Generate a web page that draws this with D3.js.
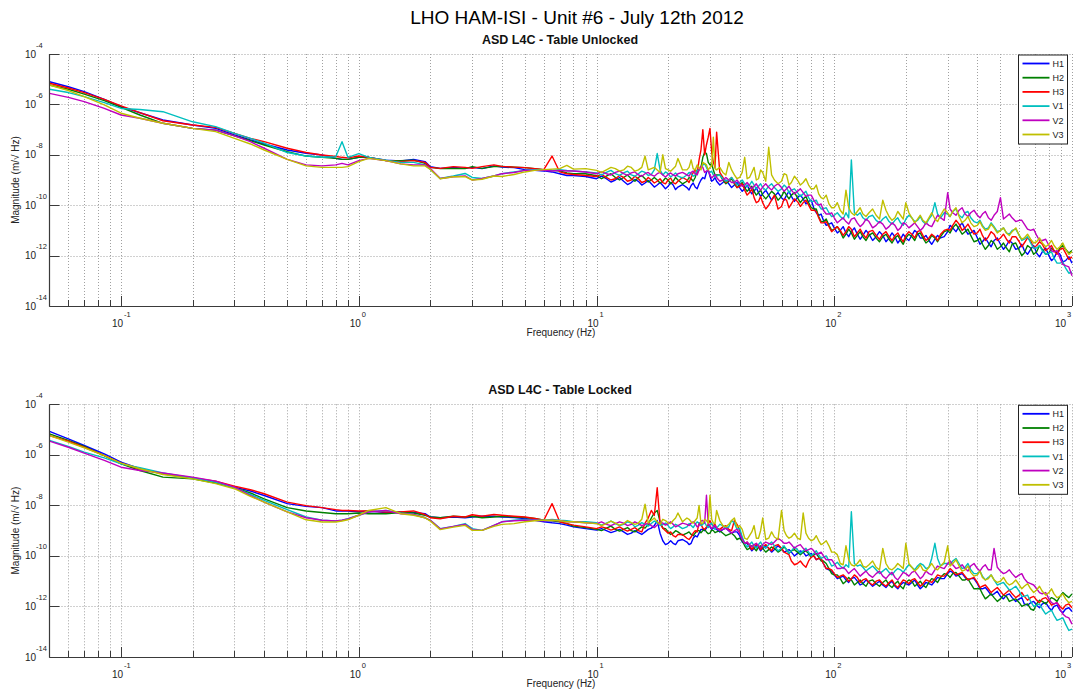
<!DOCTYPE html>
<html><head><meta charset="utf-8">
<script src="https://cdn.jsdelivr.net/npm/d3@7"></script>
<style>body{margin:0;background:#fff;overflow:hidden}svg{display:block}</style>
</head><body><svg id="c" width="1074" height="690"></svg>
<script>
// ---------------- DATA ----------------
const mainTitle = "LHO HAM-ISI - Unit #6 - July 12th 2012";
const panelTitles = ["ASD L4C - Table Unlocked", "ASD L4C - Table Locked"];
const seriesNames = ["H1","H2","H3","V1","V2","V3"];
const xTickExps = [-1, 0, 1, 2, 3];
const yTickExps = [-4, -6, -8, -10, -12, -14];
const xLabel = "Frequency (Hz)";
const yLabel = "Magnitude (m/\u221A Hz)";

// frequency grid (Hz)
const freqs = [
 0.05,0.06,0.07,0.085,0.1,0.12,0.15,0.2,0.25,0.3,0.35,0.4,0.5,0.6,0.7,0.8,0.85,0.9,1.0,
 1.1,1.3,1.5,1.7,1.9,2.0,2.2,2.5,2.8,3.0,3.3,3.7,4,4.5,5,5.5,6,6.5,7,7.5,8,9,10,
 11,12,13,14,15,16,17,18,19,20,21,22,24,25,26,27,28,29,30,31,32,34,36,38,40,42,44,46,48,50,53,56,60,63,66,70,74,78,82,86,90,95,100,
 106,112,118,125,132,140,150,160,170,180,190,200,212,224,236,250,265,280,300,315,335,355,375,400,420,445,470,500,530,560,600,630,670,710,750,800,840,890,940,1000
];
// extra readings between the grid points above 10 Hz (noise band)
const freqsMid = [
 10.5,11.5,12.5,13.5,14.5,15.5,16.5,17.5,18.5,19.5,20.5,21.5,
 23,24.5,25.5,26.5,27.5,28.5,29.5,30.5,31.5,
 33,35,37,39,41,43,45,47,49,
 51.5,54.5,58,61.5,64.5,68,72,76,80,84,88,92.5,97.5,
 103,109,115,121.5,128.5,136,145,155,165,175,185,195,
 206,218,230,243,257,272,290,307,325,345,365,387,
 410,432,457,485,515,545,580,615,650,690,730,775,820,865,915,970
];

// log10 of ASD magnitude, top panel (Table Unlocked)
const topH1 = [
 -5.10,-5.30,-5.49,-5.80,-6.09,-6.33,-6.62,-6.82,-6.95,-7.21,-7.41,-7.57,-7.81,-7.94,-8.01,-8.14,-8.18,-8.18,-8.10,
 -8.10,-8.21,-8.24,-8.18,-8.27,-8.47,-8.54,-8.50,-8.54,-8.50,-8.55,-8.44,-8.49,-8.51,-8.59,-8.62,-8.64,-8.68,-8.75,-8.82,-8.82,-8.86,-8.95,
 -8.95,-9.0,-9.05,-9.1,-9.05,-9.12,-9.15,-9.2,-9.22,-9.25, -9.2,-9.28,-9.3,-9.22,-9.28,-9.15,-8.9,-8.7,-8.85,-9.0, -9.05,-9.1,-9.15,-9.2,-9.3,-9.35,-9.4,-9.45,-9.5,-9.55, -9.6,-9.65,-9.7,-9.6,-9.65,-9.7,-9.75,-9.85,-10.1,-10.4, -10.6,-10.75,-10.9,
 -11.0,-11.1,-11.05,-11.15,-11.2,-11.15,-11.25,-11.2,-11.3,-11.25, -11.35,-11.3,-11.2,-11.1,-11.3,-11.4,-11.35,-11.3,-11.05,-10.9, -10.85,-10.95,-11.1,-11.3,-11.45,-11.5,-11.4,-11.55,-11.6,-11.5, -11.7,-11.8,-11.75,-11.9,-11.85,-12.0,-12.1,-11.95,-12.2,-12.3
];
const topH1Mid = [
 -8.85,-9.08,-8.9,-9.18,-8.98,-9.2,-9.02,-9.28,-9.1,-9.35,-9.1,-9.38,
 -9.18,-9.4,-9.12,-9.35,-9.0,-8.95,-8.6,-9.05,-8.9,
 -9.2,-9.0,-9.3,-9.1,-9.45,-9.2,-9.55,-9.3,-9.65,
 -9.4,-9.8,-9.5,-9.8,-9.45,-9.85,-9.6,-9.95,-9.8,-10.3,-10.35,-10.8,-10.7,
 -11.1,-10.85,-11.25,-10.9,-11.35,-11.0,-11.4,-11.05,-11.45,-11.1,-11.5,-11.15,
 -11.4,-11.0,-11.3,-11.2,-11.55,-11.2,-11.25,-10.8,-11.05,-10.7,-11.15,-11.0,
 -11.55,-11.3,-11.65,-11.3,-11.75,-11.4,-11.75,-11.55,-11.95,-11.6,-12.05,-11.7,-12.2,-11.85,-12.25,-12.05
];
const topH2 = [
 -5.23,-5.40,-5.59,-5.85,-6.12,-6.42,-6.75,-6.95,-7.02,-7.25,-7.44,-7.61,-7.88,-8.05,-8.10,-8.14,-8.18,-8.18,-8.10,
 -8.10,-8.23,-8.23,-8.21,-8.34,-8.50,-8.55,-8.54,-8.55,-8.47,-8.54,-8.47,-8.46,-8.49,-8.51,-8.55,-8.59,-8.62,-8.64,-8.72,-8.75,-8.75,-8.83,
 -8.85,-8.9,-8.9,-8.95,-8.9,-8.95,-9.0,-9.0,-9.05,-9.0, -9.05,-9.0,-9.05,-8.95,-8.9,-8.6,-8.1,-7.95,-8.4,-8.6, -8.8,-9.0,-9.05,-9.15,-9.2,-9.3,-9.35,-9.45,-9.5,-9.6, -9.6,-9.55,-9.65,-9.6,-9.6,-9.7,-9.75,-9.9,-10.15,-10.45, -10.65,-10.8,-10.95,
 -11.05,-11.15,-11.1,-11.2,-11.25,-11.2,-11.3,-11.25,-11.35,-11.3, -11.4,-11.3,-11.25,-11.15,-11.3,-11.4,-11.3,-11.25,-11.0,-10.9, -10.95,-11.05,-11.2,-11.4,-11.55,-11.6,-11.5,-11.65,-11.7,-11.55, -11.8,-11.9,-11.7,-11.85,-11.75,-11.9,-11.8,-11.7,-11.75,-11.8
];
const topH2Mid = [
 -8.95,-8.75,-9.0,-8.8,-9.05,-8.82,-9.08,-8.9,-9.12,-8.92,-9.15,-8.9,
 -9.15,-8.9,-9.05,-8.6,-8.5,-7.9,-8.3,-8.35,-8.8,
 -8.8,-9.15,-8.95,-9.3,-9.1,-9.45,-9.25,-9.6,-9.4,
 -9.75,-9.45,-9.8,-9.45,-9.75,-9.5,-9.9,-9.65,-10.1,-10.15,-10.65,-10.55,-11.0,
 -10.85,-11.3,-10.95,-11.35,-11.05,-11.4,-11.1,-11.45,-11.15,-11.5,-11.2,-11.55,
 -11.15,-11.4,-11.1,-11.5,-11.2,-11.45,-11.05,-11.1,-10.75,-11.15,-10.95,-11.45,
 -11.3,-11.75,-11.4,-11.75,-11.5,-11.85,-11.5,-12.0,-11.6,-11.95,-11.6,-11.95,-11.7,-11.9,-11.6,-11.9
];
const topH3 = [
 -5.16,-5.35,-5.53,-5.80,-6.06,-6.33,-6.65,-6.82,-6.91,-7.15,-7.35,-7.48,-7.74,-7.91,-8.01,-8.07,-8.10,-8.12,-8.05,
 -8.10,-8.23,-8.27,-8.23,-8.30,-8.50,-8.54,-8.47,-8.50,-8.54,-8.47,-8.40,-8.46,-8.49,-8.51,-8.55,-8.59,-8.05,-8.68,-8.75,-8.78,-8.82,-8.86,
 -8.9,-8.95,-8.9,-9.0,-8.95,-9.05,-9.0,-9.05,-9.1,-9.0, -9.1,-9.05,-9.0,-8.9,-8.6,-8.2,-7.0,-7.6,-6.95,-8.3, -7.1,-8.9,-9.0,-9.1,-9.25,-9.4,-9.5,-9.7,-9.85,-9.9, -10.0,-9.6,-10.05,-9.8,-9.95,-9.85,-9.9,-10.0,-10.2,-10.5, -10.7,-10.85,-10.95,
 -11.0,-11.05,-10.95,-11.1,-11.15,-11.05,-11.2,-11.15,-11.25,-11.2, -11.3,-11.2,-11.15,-11.05,-11.2,-11.3,-11.25,-11.15,-10.95,-10.8, -10.75,-10.9,-10.95,-11.1,-11.2,-11.25,-11.15,-11.3,-11.35,-11.25, -11.45,-11.5,-11.4,-11.6,-11.55,-11.7,-11.8,-11.75,-11.9,-12.05
];
const topH3Mid = [
 -8.78,-9.0,-8.82,-9.05,-8.85,-9.1,-8.9,-9.12,-8.95,-9.15,-8.92,-9.15,
 -8.9,-9.1,-8.7,-8.75,-7.8,-8.0,-7.3,-7.9,-8.5,
 -8.7,-9.1,-8.9,-9.3,-9.15,-9.6,-9.35,-9.9,-9.65,
 -10.15,-9.8,-10.15,-9.75,-10.1,-9.75,-10.05,-9.8,-10.2,-10.25,-10.7,-10.65,-11.05,
 -10.85,-11.2,-10.85,-11.25,-10.95,-11.3,-11.0,-11.35,-11.05,-11.4,-11.1,-11.45,
 -11.05,-11.3,-11.0,-11.4,-11.15,-11.4,-11.0,-11.0,-10.6,-11.0,-10.75,-11.15,
 -10.95,-11.4,-11.05,-11.4,-11.15,-11.5,-11.25,-11.65,-11.3,-11.7,-11.45,-11.8,-11.6,-11.95,-11.7,-12.15
];
const topV1 = [
 -5.40,-5.53,-5.69,-5.93,-6.16,-6.20,-6.29,-6.69,-6.88,-7.15,-7.35,-7.54,-7.91,-8.05,-8.10,-8.08,-7.48,-8.10,-7.95,
 -8.10,-8.21,-8.30,-8.30,-8.40,-8.58,-8.94,-8.84,-8.74,-8.90,-8.94,-8.84,-8.75,-8.68,-8.62,-8.59,-8.59,-8.62,-8.59,-8.62,-8.64,-8.68,-8.72,
 -8.7,-8.75,-8.72,-8.8,-8.75,-8.7,-8.78,-7.95,-8.8,-8.75, -8.8,-8.85,-8.8,-8.75,-8.8,-8.6,-8.4,-8.5,-8.7,-8.8, -8.85,-8.95,-9.0,-9.05,-9.1,-9.15,-9.2,-9.2,-9.25,-9.3, -9.25,-9.3,-9.35,-9.3,-9.4,-9.5,-9.55,-9.7,-9.85,-10.0, -10.15,-10.3,-10.4,
 -10.45,-10.3,-8.2,-10.4,-10.5,-10.45,-10.6,-10.55,-10.65,-10.6, -10.7,-10.55,-10.5,-10.6,-10.65,-10.55,-9.9,-10.5,-10.35,-10.25, -10.4,-10.3,-10.5,-10.7,-10.8,-10.9,-10.85,-11.0,-11.1,-11.0, -11.2,-11.35,-11.5,-11.7,-11.8,-11.9,-12.1,-12.3,-12.5,-12.65
];
const topV1Mid = [
 -8.8,-8.62,-8.82,-8.65,-8.85,-8.65,-8.82,-8.6,-8.6,-8.68,-8.88,-8.72,
 -8.92,-8.7,-8.85,-8.62,-8.55,-8.35,-8.65,-8.65,-8.9,
 -8.8,-9.05,-8.9,-9.2,-9.0,-9.25,-9.05,-9.35,-9.15,
 -9.4,-9.15,-9.45,-9.2,-9.5,-9.35,-9.65,-9.45,-9.85,-9.8,-10.15,-10.1,-10.45,
 -10.3,-10.55,-10.5,-10.3,-10.3,-10.6,-10.4,-10.7,-10.45,-10.75,-10.5,-10.8,
 -10.4,-10.65,-10.45,-10.75,-10.4,-10.35,-10.3,-10.45,-10.15,-10.5,-10.25,-10.65,
 -10.6,-10.95,-10.7,-11.05,-10.9,-11.15,-10.95,-11.4,-11.25,-11.7,-11.6,-11.95,-11.85,-12.3,-12.25,-12.7
];
const topV2 = [
 -5.56,-5.72,-5.89,-6.16,-6.42,-6.55,-6.75,-6.95,-7.02,-7.25,-7.48,-7.74,-8.18,-8.40,-8.44,-8.40,-8.34,-8.40,-8.23,
 -8.14,-8.23,-8.36,-8.40,-8.40,-8.54,-8.94,-8.87,-8.84,-9.00,-8.94,-8.84,-8.75,-8.70,-8.62,-8.62,-8.62,-8.64,-8.62,-8.64,-8.64,-8.68,-8.75,
 -8.75,-8.7,-8.75,-8.72,-8.8,-8.75,-8.8,-8.75,-8.8,-8.78, -8.8,-8.75,-8.8,-8.7,-8.75,-8.6,-8.5,-8.65,-8.8,-8.85, -8.9,-9.0,-9.0,-9.1,-9.15,-9.2,-9.22,-9.25,-9.3,-9.28, -9.3,-9.25,-9.3,-9.35,-9.4,-9.45,-9.5,-9.6,-9.8,-10.0, -10.2,-10.35,-10.5,
 -10.6,-10.65,-10.55,-10.7,-10.75,-10.65,-10.8,-10.75,-10.85,-10.8, -10.9,-10.75,-10.8,-10.85,-10.9,-10.8,-10.6,-10.5,-9.5,-10.3, -10.2,-10.35,-10.3,-10.4,-10.35,-10.5,-10.4,-9.7,-10.45,-10.5, -10.6,-10.75,-11.0,-11.2,-11.4,-11.6,-11.85,-12.1,-12.4,-12.8
];
const topV2Mid = [
 -8.68,-8.8,-8.65,-8.82,-8.68,-8.85,-8.7,-8.85,-8.7,-8.88,-8.72,-8.85,
 -8.7,-8.85,-8.65,-8.8,-8.45,-8.7,-8.6,-8.92,-8.78,
 -9.05,-8.9,-9.1,-9.0,-9.25,-9.1,-9.35,-9.15,-9.4,
 -9.15,-9.4,-9.15,-9.45,-9.25,-9.55,-9.35,-9.65,-9.6,-9.95,-9.95,-10.35,-10.3,
 -10.7,-10.5,-10.75,-10.5,-10.85,-10.55,-10.9,-10.65,-10.95,-10.7,-11.0,-10.7,
 -10.9,-10.7,-11.0,-10.7,-10.85,-10.4,-10.6,-10.15,-10.4,-10.1,-10.45,-10.2,
 -10.5,-10.25,-10.6,-10.25,-10.55,-10.35,-10.65,-10.6,-10.95,-10.95,-11.4,-11.35,-11.8,-11.8,-12.35,-12.45
];
const topV3 = [
 -5.23,-5.45,-5.69,-6.02,-6.35,-6.55,-6.75,-6.95,-7.08,-7.35,-7.57,-7.81,-8.18,-8.44,-8.50,-8.50,-8.50,-8.47,-8.27,
 -8.14,-8.23,-8.36,-8.44,-8.44,-8.58,-8.95,-8.87,-8.87,-9.00,-8.97,-8.84,-8.86,-8.78,-8.68,-8.62,-8.59,-8.57,-8.55,-8.42,-8.57,-8.55,-8.62,
 -8.6,-8.55,-8.6,-8.5,-8.6,-8.05,-8.55,-8.6,-8.0,-8.6, -8.55,-8.15,-8.6,-8.2,-8.6,-8.5,-8.3,-8.4,-8.5,-7.3, -8.6,-8.7,-8.3,-8.8,-8.9,-8.1,-8.9,-8.5,-8.95,-8.7, -7.7,-9.0,-9.05,-8.8,-9.1,-9.0,-9.1,-9.2,-9.35,-9.55, -9.75,-9.95,-10.1,
 -10.2,-9.4,-10.3,-10.25,-10.35,-10.3,-10.4,-9.8,-10.45,-10.5, -10.4,-9.9,-10.5,-10.55,-10.6,-10.5,-10.55,-10.4,-10.3,-10.25, -10.45,-10.6,-10.7,-10.8,-10.85,-10.95,-10.9,-11.0,-11.1,-11.05, -11.2,-11.3,-11.35,-11.45,-11.5,-11.55,-11.6,-11.65,-11.75,-11.85
];
const topV3Mid = [
 -8.7,-8.5,-8.65,-8.45,-8.65,-8.5,-8.6,-8.5,-8.7,-8.55,-8.65,-8.45,
 -8.6,-8.5,-8.55,-8.4,-8.6,-8.35,-8.6,-8.45,-8.55,
 -8.5,-8.8,-8.6,-8.95,-8.7,-8.95,-8.7,-9.0,-8.6,
 -9.05,-8.8,-9.15,-8.75,-9.2,-8.85,-9.2,-8.95,-9.35,-9.2,-9.7,-9.6,-10.1,
 -9.9,-10.35,-10.1,-10.4,-10.1,-10.45,-10.15,-10.55,-10.2,-10.6,-10.25,-10.55,
 -10.3,-10.7,-10.4,-10.7,-10.3,-10.65,-10.15,-10.45,-10.1,-10.7,-10.45,-10.85,
 -10.65,-11.0,-10.75,-11.1,-10.9,-11.2,-10.9,-11.35,-11.15,-11.5,-11.3,-11.65,-11.4,-11.75,-11.5,-11.95
];

// log10 of ASD magnitude, bottom panel (Table Locked)
const botH1 = [
 -5.07,-5.37,-5.63,-5.96,-6.29,-6.55,-6.75,-6.91,-7.08,-7.28,-7.43,-7.61,-7.93,-8.04,-8.09,-8.22,-8.22,-8.22,-8.25,
 -8.22,-8.28,-8.26,-8.28,-8.33,-8.46,-8.49,-8.46,-8.49,-8.46,-8.43,-8.43,-8.46,-8.48,-8.52,-8.59,-8.65,-8.69,-8.72,-8.78,-8.85,-8.92,-8.98,
 -9.0,-9.02,-9.05,-9.1,-9.08,-9.05,-8.9,-8.6,-9.4,-9.5, -9.5,-9.4,-9.45,-9.5,-9.2,-9.1,-8.95,-8.9,-8.85,-8.9, -8.95,-8.95,-9.0,-9.05,-9.2,-9.5,-9.65,-9.7,-9.65,-9.7, -9.7,-9.75,-9.7,-9.8,-9.85,-9.9,-9.85,-9.95,-10.0,-10.1, -10.3,-10.55,-10.75,
 -10.85,-10.95,-10.9,-11.0,-11.1,-11.05,-11.1,-11.15,-11.1,-11.2, -11.15,-11.1,-11.05,-11.15,-11.2,-11.1,-11.0,-10.9,-10.7,-10.65, -10.75,-10.85,-10.9,-11.1,-11.3,-11.4,-11.5,-11.6,-11.55,-11.65, -11.7,-11.9,-11.85,-11.95,-11.9,-12.05,-12.0,-12.15,-12.1,-12.2
];
const botH1Mid = [
 -8.92,-9.08,-8.95,-9.15,-9.0,-9.15,-8.95,-8.8,-9.1,-9.55,-9.4,-9.55,
 -9.35,-9.55,-9.3,-9.25,-8.95,-9.0,-8.8,-8.95,-8.82,
 -9.05,-8.9,-9.1,-9.05,-9.45,-9.5,-9.8,-9.6,-9.8,
 -9.6,-9.85,-9.6,-9.85,-9.75,-10.0,-9.8,-10.0,-9.9,-10.15,-10.1,-10.5,-10.6,
 -10.9,-10.8,-11.05,-10.85,-11.15,-10.95,-11.2,-11.0,-11.25,-11.0,-11.3,-11.05,
 -11.15,-10.95,-11.3,-11.05,-11.15,-10.85,-10.9,-10.6,-10.8,-10.7,-10.95,-10.9,
 -11.3,-11.25,-11.55,-11.4,-11.7,-11.5,-11.8,-11.65,-11.95,-11.8,-12.05,-11.85,-12.15,-11.95,-12.25,-12.05
];
const botH2 = [
 -5.17,-5.43,-5.67,-6.03,-6.36,-6.62,-6.88,-6.95,-7.12,-7.30,-7.51,-7.74,-8.09,-8.22,-8.28,-8.33,-8.33,-8.33,-8.30,
 -8.33,-8.33,-8.28,-8.30,-8.39,-8.46,-8.49,-8.43,-8.46,-8.43,-8.49,-8.46,-8.43,-8.46,-8.48,-8.52,-8.59,-8.61,-8.65,-8.72,-8.82,-8.88,-8.95,
 -8.9,-8.95,-8.95,-9.0,-8.95,-8.9,-8.5,-8.2,-8.9,-9.05, -9.1,-9.05,-9.1,-9.15,-9.1,-9.0,-9.0,-9.05,-9.1,-9.0, -9.05,-9.1,-9.15,-9.2,-9.3,-9.6,-9.7,-9.7,-9.65,-9.7, -9.75,-9.7,-9.75,-9.75,-9.8,-9.85,-9.85,-9.9,-9.95,-10.05, -10.2,-10.5,-10.75,
 -10.9,-11.0,-10.95,-11.05,-11.1,-11.0,-11.1,-11.05,-11.15,-11.1, -11.2,-11.05,-11.0,-11.1,-11.15,-11.05,-10.95,-10.85,-10.75,-10.7, -10.8,-10.95,-11.1,-11.3,-11.5,-11.6,-11.65,-11.7,-11.6,-11.75, -11.85,-11.95,-12.1,-11.9,-11.8,-11.75,-11.7,-11.6,-11.55,-11.5
];
const botH2Mid = [
 -9.0,-8.82,-9.02,-8.88,-9.05,-8.85,-8.75,-8.3,-8.65,-8.92,-9.15,-9.0,
 -9.18,-9.05,-9.2,-9.0,-9.08,-8.95,-9.12,-8.98,-9.08,
 -9.0,-9.2,-9.1,-9.35,-9.4,-9.75,-9.6,-9.8,-9.6,
 -9.85,-9.65,-9.85,-9.65,-9.9,-9.75,-9.95,-9.8,-10.05,-9.9,-10.2,-10.3,-10.7,
 -10.75,-11.1,-10.85,-11.15,-10.95,-11.2,-10.95,-11.2,-10.95,-11.25,-11.0,-11.3,
 -10.95,-11.2,-11.0,-11.25,-10.9,-11.05,-10.7,-10.85,-10.65,-10.95,-10.9,-11.3,
 -11.3,-11.7,-11.5,-11.8,-11.55,-11.8,-11.7,-12.0,-11.9,-12.15,-11.75,-11.9,-11.65,-11.8,-11.45,-11.65
];
const botH3 = [
 -5.24,-5.46,-5.70,-6.03,-6.33,-6.55,-6.75,-6.91,-7.04,-7.24,-7.38,-7.54,-7.87,-8.01,-8.09,-8.17,-8.20,-8.20,-8.22,
 -8.22,-8.26,-8.26,-8.22,-8.36,-8.49,-8.53,-8.43,-8.46,-8.37,-8.43,-8.36,-8.39,-8.43,-8.46,-8.52,-8.59,-7.93,-8.65,-8.72,-8.78,-8.85,-8.92,
 -8.9,-8.92,-8.95,-8.95,-9.0,-8.7,-8.2,-7.3,-8.9,-9.1, -9.2,-9.15,-9.3,-9.25,-9.0,-8.7,-8.9,-8.85,-8.6,-8.8, -8.9,-8.85,-8.95,-8.6,-9.0,-9.5,-9.6,-9.65,-9.6,-9.65, -9.7,-9.6,-9.7,-9.9,-10.2,-10.3,-10.35,-10.2,-10.0,-10.1, -10.3,-10.5,-10.7,
 -10.8,-10.85,-10.9,-10.85,-10.95,-11.05,-11.0,-11.1,-11.05,-11.15, -11.1,-11.0,-10.95,-11.05,-11.1,-11.0,-10.9,-10.8,-10.65,-10.6, -10.7,-10.8,-10.9,-11.05,-11.2,-11.3,-11.35,-11.4,-11.45,-11.5, -11.55,-11.6,-11.65,-11.75,-11.7,-11.8,-11.9,-12.0,-11.95,-12.05
];
const botH3Mid = [
 -8.85,-8.98,-8.85,-9.02,-8.88,-9.05,-8.5,-8.4,-8.7,-9.0,-9.05,-9.25,
 -9.15,-9.35,-9.1,-9.05,-8.75,-8.95,-8.75,-8.75,-8.75,
 -8.95,-8.8,-9.0,-8.75,-9.3,-9.45,-9.75,-9.55,-9.75,
 -9.55,-9.8,-9.55,-9.85,-9.95,-10.35,-10.2,-10.45,-10.05,-10.15,-10.1,-10.5,-10.55,
 -10.85,-10.75,-11.0,-10.75,-11.05,-10.9,-11.15,-10.95,-11.2,-10.95,-11.25,-10.95,
 -11.1,-10.9,-11.2,-10.95,-11.05,-10.75,-10.8,-10.5,-10.75,-10.65,-10.95,-10.85,
 -11.25,-11.15,-11.45,-11.25,-11.55,-11.35,-11.65,-11.45,-11.75,-11.6,-11.85,-11.65,-11.95,-11.85,-12.1,-11.9
];
const botV1 = [
 -5.43,-5.67,-5.89,-6.12,-6.36,-6.51,-6.72,-6.91,-7.08,-7.30,-7.57,-7.80,-8.17,-8.46,-8.59,-8.62,-8.59,-8.53,-8.39,
 -8.26,-8.20,-8.30,-8.36,-8.49,-8.59,-8.92,-8.83,-8.72,-8.92,-8.99,-8.79,-8.65,-8.59,-8.56,-8.59,-8.59,-8.56,-8.59,-8.61,-8.65,-8.65,-8.69,
 -8.7,-8.72,-8.75,-8.7,-8.78,-8.75,-8.72,-8.7,-8.75,-8.8, -8.85,-8.8,-8.85,-8.8,-8.75,-8.7,-8.75,-8.8,-8.75,-8.85, -8.9,-8.8,-8.85,-8.7,-8.9,-9.5,-9.55,-9.6,-9.55,-9.6, -9.55,-9.6,-9.7,-9.75,-9.8,-9.75,-9.8,-9.85,-9.9,-9.95, -10.05,-10.2,-10.35,
 -10.4,-10.35,-8.25,-10.4,-10.45,-10.5,-10.55,-10.6,-10.65,-10.6, -10.55,-10.5,-10.45,-10.4,-10.35,-10.45,-9.5,-10.4,-10.3,-10.2, -10.3,-10.45,-10.55,-10.7,-10.8,-10.85,-10.95,-11.1,-11.2,-11.3, -11.4,-11.6,-11.8,-11.95,-12.1,-12.2,-12.35,-12.5,-12.7,-12.9
];
const botV1Mid = [
 -8.78,-8.62,-8.8,-8.65,-8.85,-8.68,-8.82,-8.62,-8.8,-8.7,-8.92,-8.75,
 -8.92,-8.72,-8.88,-8.65,-8.8,-8.68,-8.88,-8.7,-8.95,
 -8.75,-8.92,-8.6,-8.95,-9.25,-9.65,-9.45,-9.7,-9.45,
 -9.7,-9.45,-9.8,-9.6,-9.9,-9.65,-9.9,-9.7,-10.0,-9.8,-10.1,-10.0,-10.4,
 -10.25,-10.5,-10.45,-10.3,-10.35,-10.6,-10.4,-10.7,-10.5,-10.75,-10.5,-10.65,
 -10.35,-10.55,-10.3,-10.5,-10.1,-10.1,-10.3,-10.35,-10.1,-10.5,-10.3,-10.7,
 -10.6,-10.95,-10.75,-11.15,-11.05,-11.35,-11.2,-11.6,-11.55,-12.0,-11.9,-12.3,-12.15,-12.55,-12.45,-12.95
];
const botV2 = [
 -5.46,-5.70,-5.93,-6.22,-6.49,-6.62,-6.72,-6.88,-7.04,-7.28,-7.61,-7.87,-8.26,-8.49,-8.59,-8.62,-8.59,-8.54,-8.39,
 -8.26,-8.20,-8.33,-8.36,-8.49,-8.59,-8.93,-8.83,-8.75,-8.96,-8.99,-8.79,-8.65,-8.61,-8.59,-8.59,-8.61,-8.59,-8.61,-8.65,-8.65,-8.69,-8.72,
 -8.75,-8.72,-8.7,-8.75,-8.72,-8.75,-8.8,-8.78,-8.7,-8.72, -8.75,-8.8,-8.75,-8.7,-8.72,-8.8,-8.6,-7.6,-8.8,-8.85, -8.9,-8.95,-9.0,-9.0,-9.1,-9.5,-9.55,-9.55,-9.6,-9.55, -9.5,-9.45,-9.4,-9.5,-9.55,-9.6,-9.7,-9.75,-9.8,-9.9, -10.0,-10.15,-10.3,
 -10.5,-10.55,-10.6,-10.65,-10.7,-10.75,-10.7,-10.8,-10.75,-10.85, -10.8,-10.7,-10.65,-10.75,-10.8,-10.7,-10.55,-10.45,-10.3,-10.35, -10.45,-10.5,-10.4,-10.5,-10.45,-10.55,-9.7,-10.6,-10.65,-10.7, -10.75,-10.9,-11.1,-11.3,-11.5,-11.7,-11.9,-12.1,-12.4,-12.7
];
const botV2Mid = [
 -8.65,-8.8,-8.65,-8.8,-8.65,-8.8,-8.7,-8.88,-8.65,-8.78,-8.65,-8.85,
 -8.7,-8.8,-8.65,-8.85,-8.62,-8.7,-8.75,-8.92,-8.8,
 -9.0,-8.9,-9.1,-8.95,-9.35,-9.45,-9.65,-9.5,-9.68,
 -9.45,-9.55,-9.3,-9.5,-9.45,-9.7,-9.55,-9.8,-9.7,-9.95,-9.85,-10.15,-10.15,
 -10.5,-10.45,-10.7,-10.5,-10.8,-10.6,-10.85,-10.6,-10.9,-10.65,-10.95,-10.65,
 -10.8,-10.6,-10.9,-10.6,-10.75,-10.4,-10.5,-10.2,-10.5,-10.35,-10.6,-10.3,
 -10.6,-10.35,-10.55,-10.45,-10.7,-10.55,-10.85,-10.7,-11.05,-11.15,-11.45,-11.45,-11.85,-11.85,-12.3,-12.45
];
const botV3 = [
 -5.24,-5.50,-5.72,-6.03,-6.33,-6.55,-6.78,-6.95,-7.14,-7.34,-7.64,-7.87,-8.26,-8.57,-8.66,-8.66,-8.62,-8.57,-8.39,
 -8.20,-8.09,-8.33,-8.39,-8.49,-8.62,-8.96,-8.86,-8.79,-8.99,-8.99,-8.83,-8.75,-8.72,-8.65,-8.61,-8.59,-8.59,-8.61,-8.65,-8.65,-8.69,-8.72,
 -8.72,-8.7,-8.72,-8.68,-8.7,-7.95,-8.6,-8.65,-8.55,-8.7, -8.6,-8.3,-8.5,-8.65,-8.6,-8.0,-8.7,-8.6,-7.6,-8.7, -8.2,-8.8,-8.75,-8.5,-8.8,-9.3,-9.2,-8.8,-9.3,-8.5, -9.3,-9.25,-8.2,-9.2,-9.25,-9.3,-8.3,-9.3,-9.35,-9.4, -9.5,-9.6,-9.85,
 -10.3,-9.6,-10.35,-10.3,-10.4,-10.35,-10.45,-9.7,-10.5,-10.45, -10.4,-9.5,-10.45,-10.5,-10.55,-10.45,-10.5,-10.4,-9.6,-10.3, -10.4,-10.55,-10.65,-10.75,-10.85,-10.9,-10.95,-11.0,-11.05,-11.1, -11.15,-11.2,-11.3,-11.35,-11.4,-11.45,-11.5,-11.6,-11.7,-11.8
];
const botV3Mid = [
 -8.8,-8.62,-8.78,-8.6,-8.75,-8.55,-8.7,-8.5,-8.75,-8.6,-8.72,-8.5,
 -8.65,-8.55,-8.7,-8.5,-8.72,-8.55,-8.7,-8.55,-8.72,
 -8.6,-8.85,-8.6,-8.85,-8.95,-9.35,-9.05,-9.3,-9.0,
 -9.35,-9.05,-9.35,-9.0,-9.3,-9.1,-9.35,-9.1,-9.4,-9.2,-9.55,-9.4,-9.85,
 -9.95,-10.35,-10.15,-10.4,-10.15,-10.45,-10.2,-10.55,-10.3,-10.55,-10.3,-10.5,
 -10.3,-10.6,-10.35,-10.6,-10.3,-10.55,-10.25,-10.4,-10.15,-10.6,-10.4,-10.8,
 -10.6,-10.95,-10.75,-11.05,-10.85,-11.15,-10.95,-11.3,-11.1,-11.45,-11.2,-11.55,-11.3,-11.65,-11.5,-11.85
];

// ---------------- DRAW ----------------
const W = 1074, H = 690;
const FONT = '"Liberation Sans", Arial, Helvetica, sans-serif';
const colors = ["#0000ff","#008000","#ff0000","#00bfbf","#bf00bf","#bfbf00"];
const svg = d3.select("#c").attr("font-family", FONT);
svg.append("rect").attr("width", W).attr("height", H).attr("fill", "#fff");

const xL = 49.5, xR = 1072;
const x = d3.scaleLog().domain([0.05, 1000]).range([xL, xR]);

svg.append("text").attr("x", 577).attr("y", 24).attr("text-anchor", "middle")
  .attr("font-size", 19).attr("fill", "#000").text(mainTitle);

const panels = [
  { title: panelTitles[0], top: 54, bottom: 306,
    series: [topH1, topH2, topH3, topV1, topV2, topV3],
    mids: [topH1Mid, topH2Mid, topH3Mid, topV1Mid, topV2Mid, topV3Mid] },
  { title: panelTitles[1], top: 404.3, bottom: 657,
    series: [botH1, botH2, botH3, botV1, botV2, botV3],
    mids: [botH1Mid, botH2Mid, botH3Mid, botV1Mid, botV2Mid, botV3Mid] }
];

panels.forEach((p, pi) => {
  const y = d3.scaleLog().domain([1e-14, 1e-4]).range([p.bottom, p.top]);
  const g = svg.append("g");
  const clipId = "clip" + pi;
  svg.append("clipPath").attr("id", clipId).append("rect")
    .attr("x", xL).attr("y", p.top - 2).attr("width", W - xL).attr("height", p.bottom - p.top + 2);

  // grid
  const xt = x.ticks().filter(v => v > 0.0501);
  g.selectAll(".gx").data(xt).join("line")
    .attr("x1", d => Math.round(x(d)) + 0.5).attr("x2", d => Math.round(x(d)) + 0.5)
    .attr("y1", p.top).attr("y2", p.bottom)
    .attr("stroke", "#a0a0a0").attr("stroke-width", 1).attr("stroke-dasharray", "1,2");
  g.selectAll(".gy").data(yTickExps).join("line")
    .attr("x1", xL).attr("x2", xR)
    .attr("y1", d => Math.round(y(Math.pow(10, d))) + 0.5).attr("y2", d => Math.round(y(Math.pow(10, d))) + 0.5)
    .attr("stroke", "#a0a0a0").attr("stroke-width", 1).attr("stroke-dasharray", "1,2");

  // data lines
  const line = d3.line().x(d => x(d[0])).y(d => y(Math.pow(10, d[1])));
  const lg = g.append("g").attr("clip-path", `url(#${clipId})`);
  p.series.forEach((s, si) => {
    const n = Math.min(s.length, freqs.length);
    const pts = d3.range(n).map(i => [freqs[i], s[i]]);
    const m = p.mids[si];
    const nm = Math.min(m.length, freqsMid.length);
    for (let i = 0; i < nm; i++) pts.push([freqsMid[i], m[i]]);
    pts.sort((a, b) => a[0] - b[0]);
    lg.append("path").datum(pts).attr("d", line).attr("fill", "none")
      .attr("stroke", colors[si]).attr("stroke-width", 1.4).attr("stroke-linejoin", "round");
  });

  // axes
  const axCol = "#3a3a3a";
  g.append("line").attr("x1", xL).attr("x2", xL).attr("y1", p.top).attr("y2", p.bottom + 0.5)
    .attr("stroke", axCol).attr("stroke-width", 1.2);
  g.append("line").attr("x1", xL).attr("x2", xR).attr("y1", p.bottom + 0.5).attr("y2", p.bottom + 0.5)
    .attr("stroke", axCol).attr("stroke-width", 1.2);
  const majors = xTickExps.map(e => Math.pow(10, e));
  g.selectAll(".tx").data(xt).join("line")
    .attr("x1", d => Math.round(x(d)) + 0.5).attr("x2", d => Math.round(x(d)) + 0.5)
    .attr("y1", p.bottom)
    .attr("y2", d => p.bottom - (majors.some(m => Math.abs(m - d) / m < 1e-6) ? 10 : 6))
    .attr("stroke", axCol).attr("stroke-width", 1);
  g.selectAll(".ty").data(yTickExps).join("line")
    .attr("x1", xL).attr("x2", xL + 10)
    .attr("y1", d => Math.round(y(Math.pow(10, d))) + 0.5).attr("y2", d => Math.round(y(Math.pow(10, d))) + 0.5)
    .attr("stroke", axCol).attr("stroke-width", 1);

  // tick labels (the last one is kept inside the window)
  xTickExps.forEach(e => {
    const px = Math.min(x(Math.pow(10, e)), 1064);
    g.append("text").attr("x", px + 2).attr("y", p.bottom + 21).attr("text-anchor", "end")
      .attr("font-size", 10).attr("fill", "#222").text("10");
    g.append("text").attr("x", px + 3).attr("y", p.bottom + 11).attr("text-anchor", "start")
      .attr("font-size", 7.5).attr("fill", "#222").text(String(e));
  });
  yTickExps.forEach(e => {
    const py = y(Math.pow(10, e));
    g.append("text").attr("x", 36).attr("y", py + 3.5).attr("text-anchor", "end")
      .attr("font-size", 10).attr("fill", "#222").text("10");
    g.append("text").attr("x", 36).attr("y", py - 6.5).attr("text-anchor", "start")
      .attr("font-size", 7.5).attr("fill", "#222").text(String(e));
  });

  // labels
  g.append("text").attr("x", 561).attr("y", p.bottom + 30).attr("text-anchor", "middle")
    .attr("font-size", 10).attr("fill", "#222").text(xLabel);
  const cy = (p.top + p.bottom) / 2;
  g.append("text").attr("transform", `translate(19,${cy}) rotate(-90)`).attr("text-anchor", "middle")
    .attr("font-size", 10).attr("fill", "#222").text(yLabel);
  g.append("text").attr("x", 560).attr("y", p.top - 10.5).attr("text-anchor", "middle")
    .attr("font-size", 12.5).attr("font-weight", "bold").attr("fill", "#111").text(p.title);

  // legend
  const lx = 1018.5, ly = p.top + 1, lw = 49, lh = 89;
  const leg = g.append("g");
  leg.append("rect").attr("x", lx).attr("y", ly).attr("width", lw).attr("height", lh)
    .attr("fill", "#fff").attr("stroke", "#222").attr("stroke-width", 1);
  seriesNames.forEach((nm, i) => {
    const ry = ly + 8.5 + i * 14.2;
    leg.append("line").attr("x1", lx + 4).attr("x2", lx + 31).attr("y1", ry).attr("y2", ry)
      .attr("stroke", colors[i]).attr("stroke-width", 1.8);
    leg.append("text").attr("x", lx + 34).attr("y", ry + 3.2).attr("font-size", 9)
      .attr("fill", "#222").text(nm);
  });
});
</script>
</body></html>
